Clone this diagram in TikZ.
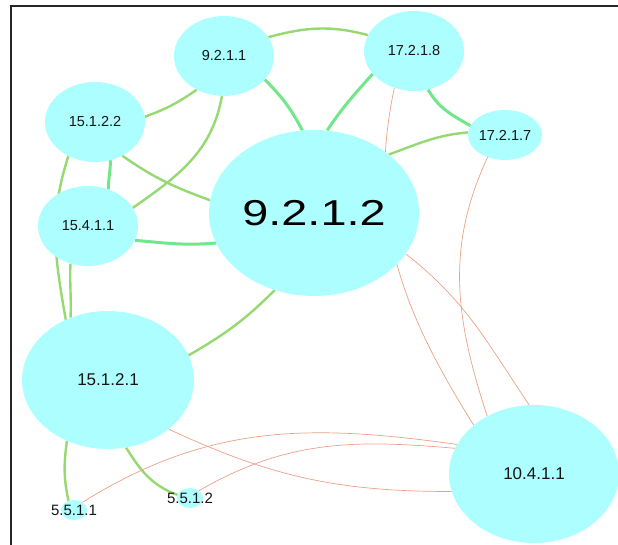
\documentclass[tikz,border=0pt]{standalone}
\usepackage{fontspec}
\setmainfont{Liberation Sans}
\usetikzlibrary{shapes.geometric, backgrounds}
\definecolor{colorNodo}{HTML}{ADFFFF}
\definecolor{textoNodo}{HTML}{141414}
\definecolor{verdeEnlace}{HTML}{96D872}
\definecolor{verdeFuerte}{HTML}{72E68A}
\definecolor{naranjaEnlace}{HTML}{EAA184}

\begin{document}
\begin{tikzpicture}[x=1pt, y=1pt, font=\fontsize{14.5}{16}\selectfont,
        nd/.style={ellipse, fill=colorNodo, inner sep=0pt, text=textoNodo},
        md/.style={nd, minimum width=100, minimum height=80},
        gd/.style={nd, minimum width=172, minimum height=138, font=\fontsize{17}{19}\selectfont},
        ch/.style={nd, minimum width=26, minimum height=20},
        lk/.style={verdeEnlace, line width=2.4pt},
        lkf/.style={verdeFuerte, line width=3pt},
        lo/.style={naranjaEnlace, line width=0.7pt}]
        \useasboundingbox (0,0) rectangle (618,545);
        \draw[line width=1.8pt, black!85] (11,0) -- (11,539) -- (618,539);
        \node[md] (n9211) at (224,489) {9.2.1.1};
        \node[md] (n15122) at (95,423) {15.1.2.2};
        \node[md] (n15411) at (88,319) {15.4.1.1};
        \node[md] (n17218) at (414,494) {17.2.1.8};
        \node[nd, minimum width=64, minimum height=50] (n17217) at (505,410) {17.2.1.7};
        \node[nd, minimum width=210, minimum height=166, text=black,
            font=\fontsize{36}{40}\selectfont] (n9212) at (314,332) {\scalebox{1.3}[1]{9.2.1.2}};
        \node[gd] (n15121) at (108,165) {15.1.2.1};
        \node[gd, minimum width=170] (n10411) at (534,71) {10.4.1.1};
        \node[ch, label={[font=\fontsize{15}{16}\selectfont, text=textoNodo]center:5.5.1.1}] (n5511) at (74,35) {};
        \node[ch, label={[font=\fontsize{15}{16}\selectfont, text=textoNodo]center:5.5.1.2}] (n5512) at (190,47) {};
        \begin{scope}[on background layer]
            \draw[lk] (n9211.23) to[out=15, in=165] (n17218.161);
            \draw[lk] (n9211.231) to[out=215, in=20] (n15122.6);
            \draw[lkf] (n9211.-30) to[out=-45, in=118] (n9212.98);
            \draw[lk] (n9211.267) to[out=-100, in=35] (n15411.22);
            \draw[lkf] (n17218.209) to[out=228, in=56] (n9212.81);
            \draw[lkf] (n17218.-70) to[out=-60, in=150] (n17217.165);
            \draw[lk] (n17217.176) to[out=185, in=20] (n9212.38);
            \draw[lk] (n15122.-51) to[out=-35, in=160] (n9212.173);
            \draw[lkf] (n15122.-68) to[out=-90, in=90] (n15411.61);
            \draw[lk] (n15122.232) to[out=252, in=100] (n15121.125);
            \draw[lk] (n15411.245) to[out=-92, in=88] (n15121.121);
            \draw[lkf] (n15411.-17) to[out=-5, in=185] (n9212.197);
            \draw[lk] (n9212.243) to[out=225, in=30] (n15121.17);
            \draw[lk] (n15121.236) to[out=262, in=102] (n5511.121);
            \draw[lk] (n15121.-75) to[out=-58, in=160] (n5512.166);
            \draw[lo] (n17218.242) to[out=258, in=122] (n10411.141);
            \draw[lo] (n17217.232) to[out=245, in=108] (n10411.129);
            \draw[lo] (n9212.-24) to[out=-38, in=124] (n10411.94);
            \draw[lo] (n15121.-39) to[out=-25, in=180] (n10411.192);
            \draw[lo] (n5511.42) to[out=32, in=172] (n10411.159);
            \draw[lo] (n5512.39) to[out=30, in=175] (n10411.162);
        \end{scope}
    \end{tikzpicture}
\end{document}
